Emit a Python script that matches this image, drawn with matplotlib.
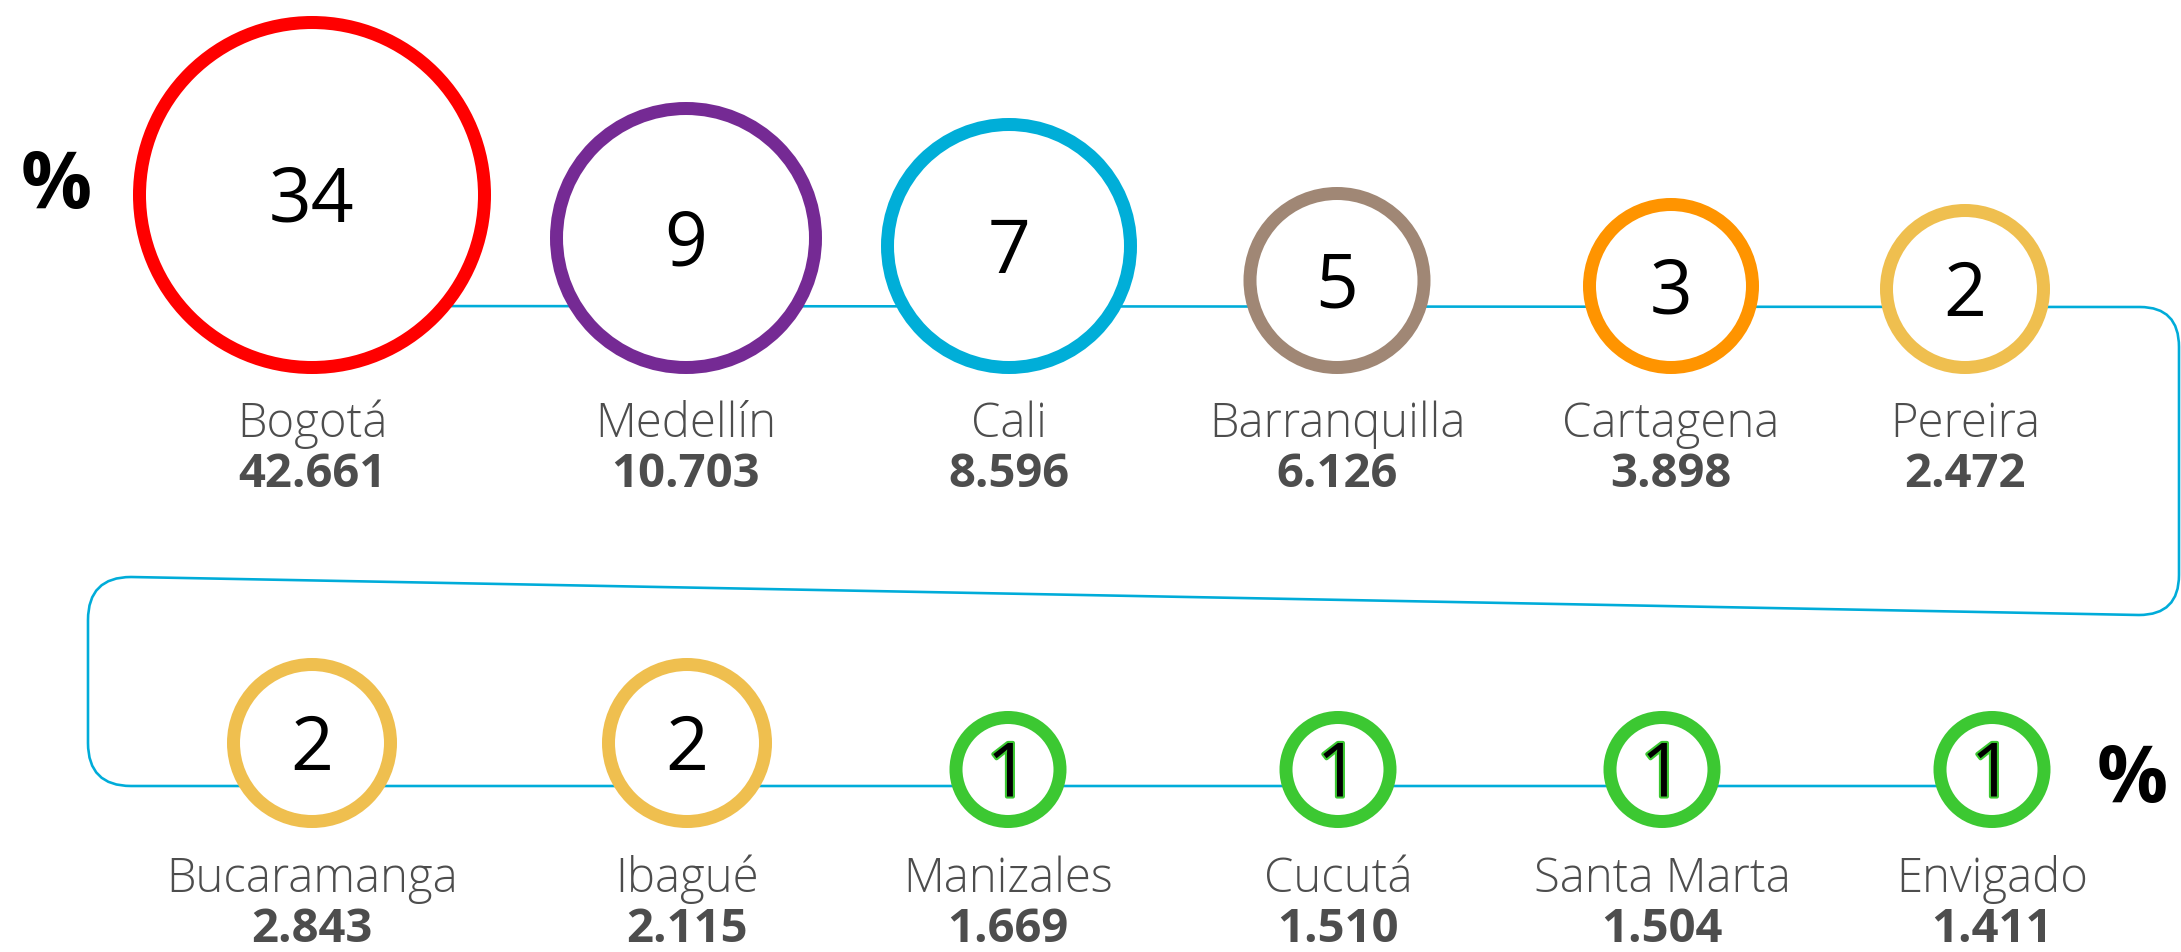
#!/usr/bin/env python3
# -*- coding: utf-8 -*-

import matplotlib
matplotlib.use("Agg")
import matplotlib.pyplot as plt
from matplotlib.patches import Circle, PathPatch
from matplotlib.path import Path
import matplotlib.patheffects as pe

# ----------------------------------------------------------------------------
# Donnees
# ----------------------------------------------------------------------------
ciudades = ["Bogotá", "Medellín", "Cali", "Barranquilla", "Cartagena", "Pereira",
            "Bucaramanga", "Ibagué", "Manizales", "Cucutá", "Santa Marta", "Envigado"]
totales = [42661, 10703, 8596, 6126, 3898, 2472,
           2843, 2115, 1669, 1510, 1504, 1411]
porcentajes = [34, 9, 7, 5, 3, 2, 2, 2, 1, 1, 1, 1]

# ----------------------------------------------------------------------------
# Estilo / disposicion (en pixeles de la imagen)
# ----------------------------------------------------------------------------
colores = ["#ff0000", "#752a94", "#00aed8", "#a08775", "#ff9400", "#efbf4f",
           "#efbf4f", "#efbf4f", "#3cc832", "#3cc832", "#3cc832", "#3cc832"]
centros_x = [312, 686, 1009, 1337, 1671, 1965,
             312, 687, 1008, 1338, 1662, 1992]
radios = [179, 136, 128, 93.5, 88, 85,
          85, 85, 58.5, 58.5, 58.5, 58.5]
BASE_FILA = [374, 828]          # borde inferior de los circulos por fila
NOMBRE_Y = [437, 892]
TOTAL_Y = [487, 942]
GROSOR = 13                     # grosor del anillo en px
LINEA = "#00acd9"

W, H = 2181, 952
fig = plt.figure(figsize=(W / 100, H / 100), dpi=100)
ax = fig.add_axes([0, 0, 1, 1])
ax.set_xlim(0, W)
ax.set_ylim(H, 0)
ax.axis("off")

px2pt = 72 / 100

# linea de conexion (serpentin)
verts = [(312, 306), (2140, 307), (2179, 307), (2179, 347), (2179, 575),
         (2179, 615), (2139, 615), (131, 577), (88, 577), (88, 620),
         (88, 743), (88, 786), (131, 786), (1992, 786)]
codes = [Path.MOVETO, Path.LINETO, Path.CURVE3, Path.CURVE3, Path.LINETO,
         Path.CURVE3, Path.CURVE3, Path.LINETO, Path.CURVE3, Path.CURVE3,
         Path.LINETO, Path.CURVE3, Path.CURVE3, Path.LINETO]
ax.add_patch(PathPatch(Path(verts, codes), facecolor="none", edgecolor=LINEA,
                       linewidth=2.6 * px2pt, zorder=1))

for i, ciudad in enumerate(ciudades):
    fila = 0 if i < 6 else 1
    r = radios[i]
    cx = centros_x[i]
    cy = BASE_FILA[fila] - r
    ax.add_patch(Circle((cx, cy), r - GROSOR / 2, facecolor="white",
                        edgecolor=colores[i], linewidth=GROSOR * px2pt, zorder=2))

    efectos = None
    if porcentajes[i] == 1:
        efectos = [pe.withStroke(linewidth=3, foreground="#3cc832")]
    ax.text(cx, cy + 27, str(porcentajes[i]), ha="center", va="baseline",
            fontsize=54, family="Open Sans", color="black", zorder=3,
            path_effects=efectos)

    ax.text(cx, NOMBRE_Y[fila], ciudad, ha="center", va="baseline",
            fontsize=34, family="Open Sans", fontweight=300, color="#4d4d4d", zorder=3)
    total = f"{totales[i]:,}".replace(",", ".")
    ax.text(cx, TOTAL_Y[fila], total, ha="center", va="baseline",
            fontsize=34, family="Open Sans", fontweight="bold", color="#4d4d4d", zorder=3)

# simbolos de porcentaje
ax.text(56, 208, "%", ha="center", va="baseline", fontsize=57,
        family="Open Sans", fontweight="bold", color="black")
ax.text(2132, 802, "%", ha="center", va="baseline", fontsize=57,
        family="Open Sans", fontweight="bold", color="black")

fig.savefig("out.png", dpi=100, facecolor="white")
